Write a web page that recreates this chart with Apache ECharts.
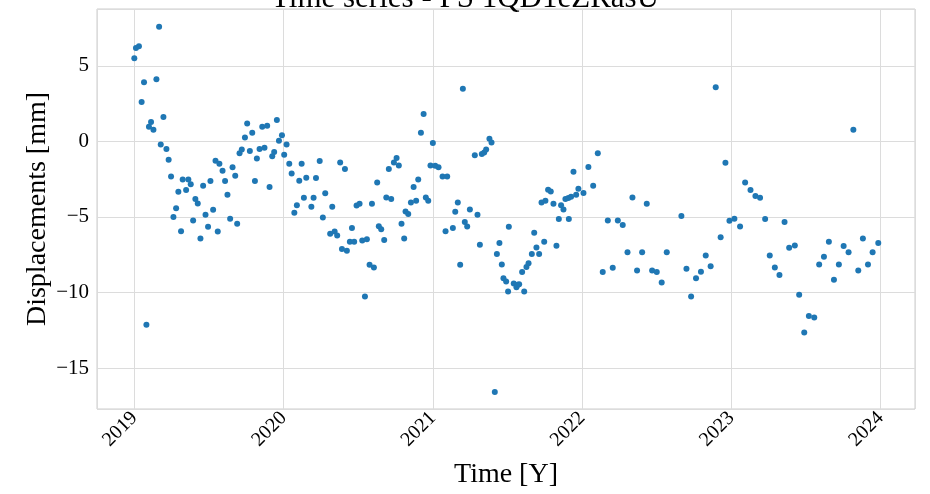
<!DOCTYPE html>
<html>
<head>
<meta charset="utf-8">
<script src="https://cdn.jsdelivr.net/npm/echarts@6/dist/echarts.min.js"></script>
<style>html,body{margin:0;padding:0;background:#fff}#c{width:930px;height:494px}</style>
</head>
<body>
<div id="c"></div>
<script>
const titleText = 'Time series - PS 1QD1eZRasU';
const xName = 'Time [Y]';
const yName = 'Displacements [mm]';
const years = [
2019.000,2019.011,2019.031,2019.049,2019.065,2019.081,2019.098,2019.112,2019.128,2019.148,
2019.166,2019.177,2019.195,2019.215,2019.230,2019.246,2019.262,2019.280,2019.295,2019.313,
2019.324,2019.347,2019.362,2019.378,2019.394,2019.409,2019.425,2019.443,2019.461,2019.477,
2019.494,2019.510,2019.528,2019.544,2019.559,2019.570,2019.591,2019.608,2019.624,2019.642,
2019.658,2019.676,2019.689,2019.705,2019.720,2019.741,2019.756,2019.774,2019.790,2019.808,
2019.821,2019.839,2019.857,2019.872,2019.890,2019.906,2019.924,2019.937,2019.955,2019.969,
2019.989,2020.004,2020.020,2020.038,2020.054,2020.072,2020.089,2020.105,2020.121,2020.136,
2020.152,2020.186,2020.201,2020.217,2020.242,2020.263,2020.279,2020.312,2020.326,2020.342,
2020.359,2020.379,2020.391,2020.411,2020.424,2020.444,2020.458,2020.473,2020.489,2020.509,
2020.527,2020.545,2020.558,2020.576,2020.592,2020.605,2020.627,2020.638,2020.654,2020.674,
2020.688,2020.705,2020.721,2020.739,2020.757,2020.772,2020.790,2020.808,2020.817,2020.835,
2020.853,2020.871,2020.888,2020.902,2020.920,2020.938,2020.953,2020.969,2020.984,2021.000,
2021.016,2021.038,2021.065,2021.085,2021.096,2021.134,2021.150,2021.167,2021.183,2021.201,
2021.214,2021.230,2021.248,2021.281,2021.299,2021.315,2021.328,2021.344,2021.357,2021.379,
2021.393,2021.415,2021.429,2021.446,2021.462,2021.473,2021.491,2021.504,2021.509,2021.542,
2021.560,2021.569,2021.578,2021.598,2021.612,2021.627,2021.641,2021.663,2021.679,2021.694,
2021.712,2021.728,2021.746,2021.754,2021.772,2021.790,2021.808,2021.828,2021.844,2021.859,
2021.875,2021.888,2021.908,2021.911,2021.926,2021.942,2021.960,2021.975,2022.009,2022.042,
2022.074,2022.105,2022.138,2022.172,2022.205,2022.239,2022.272,2022.304,2022.337,2022.368,
2022.402,2022.433,2022.469,2022.500,2022.533,2022.567,2022.665,2022.699,2022.730,2022.763,
2022.796,2022.828,2022.861,2022.895,2022.928,2022.960,2022.987,2023.020,2023.058,2023.092,
2023.128,2023.161,2023.192,2023.226,2023.257,2023.291,2023.322,2023.356,2023.387,2023.425,
2023.454,2023.488,2023.519,2023.555,2023.588,2023.620,2023.653,2023.687,2023.720,2023.752,
2023.785,2023.817,2023.850,2023.881,2023.915,2023.946,2023.984
];
const disp = [
5.50,6.18,6.29,2.60,3.91,-12.14,0.97,1.28,0.77,4.11,
7.59,-0.20,1.61,-0.51,-1.21,-2.32,-5.01,-4.42,-3.33,-5.94,
-2.52,-3.22,-2.52,-2.83,-5.23,-3.82,-4.11,-6.42,-2.94,-4.86,
-5.65,-2.63,-4.53,-1.28,-5.96,-1.48,-1.94,-2.63,-3.53,-5.12,
-1.72,-2.27,-5.45,-0.79,-0.53,0.26,1.19,-0.64,0.57,-2.63,
-1.13,-0.51,0.97,-0.42,1.04,-3.02,-0.99,-0.71,1.41,0.04,
0.40,-0.88,-0.20,-1.48,-2.12,-4.72,-4.22,-2.60,-1.48,-3.73,
-2.41,-4.33,-3.73,-2.43,-1.30,-5.03,-3.44,-6.11,-4.33,-5.96,
-6.23,-1.39,-7.13,-1.83,-7.24,-6.64,-5.74,-6.64,-4.24,-4.13,
-6.56,-10.26,-6.47,-8.17,-4.13,-8.34,-2.72,-5.61,-5.81,-6.53,
-3.71,-1.83,-3.82,-1.39,-1.10,-1.59,-5.45,-6.42,-4.64,-4.81,
-4.04,-3.02,-3.93,-2.52,0.57,1.81,-3.71,-3.93,-1.59,-0.11,
-1.61,-1.72,-2.32,-5.94,-2.32,-5.74,-4.66,-4.04,-8.17,3.49,
-5.34,-5.63,-4.50,-0.91,-4.86,-6.84,-0.84,-0.73,-0.53,0.18,
-0.07,-16.58,-7.46,-6.73,-8.15,-9.05,-9.27,-9.93,-5.65,-9.40,
-9.65,-9.49,-9.45,-8.65,-9.93,-8.32,-8.06,-7.46,-6.05,-7.02,
-7.46,-4.04,-6.64,-3.93,-3.20,-3.31,-4.13,-6.91,-5.14,-4.22,
-4.50,-3.82,-3.75,-5.14,-3.66,-2.01,-3.53,-3.13,-3.42,-1.70,
-2.94,-0.79,-8.65,-5.23,-8.37,-5.23,-5.54,-7.33,-3.71,-8.54,
-7.33,-4.13,-8.54,-8.65,-9.34,-7.33,-4.94,-8.43,-10.26,-9.05,
-8.63,-7.55,-8.26,3.58,-6.34,-1.41,-5.25,-5.12,-5.63,-2.72,
-3.22,-3.62,-3.73,-5.14,-7.55,-8.34,-8.85,-5.34,-7.04,-6.89,
-10.15,-12.65,-11.55,-11.66,-8.15,-7.64,-6.64,-9.16,-8.15,-6.93,
-7.33,0.77,-8.54,-6.42,-8.15,-7.33,-6.73
];

const points = years.map((y, i) => [y, disp[i]]);
const serif = 'Liberation Serif';
const chart = echarts.init(document.getElementById('c'), null, {renderer: 'canvas'});
chart.setOption({
  animation: false,
  backgroundColor: '#fff',
  title: {
    text: titleText, left: 'center', top: -22,
    textStyle: {fontFamily: serif, fontSize: 31, fontWeight: 'normal', color: '#000'}
  },
  grid: {left: 97, right: 15, top: 9, bottom: 84, show: true, borderColor: '#cccccc', borderWidth: 1},
  xAxis: {
    type: 'value', min: 2018.75, max: 2024.23, splitNumber: 5,
    name: xName, nameLocation: 'middle', nameGap: 52,
    nameTextStyle: {fontFamily: serif, fontSize: 28, color: '#000'},
    axisLine: {show: false}, axisTick: {show: false},
    axisLabel: {
      rotate: 45, margin: 6, fontFamily: serif, fontSize: 20, color: '#000',
      showMinLabel: false, showMaxLabel: false,
      formatter: v => Number.isInteger(Math.round(v*1000)/1000) ? String(Math.round(v)) : ''
    },
    splitLine: {show: true, lineStyle: {color: '#dcdcdc', width: 1}}
  },
  yAxis: {
    type: 'value', min: -17.71, max: 8.76, splitNumber: 5,
    name: yName, nameLocation: 'middle', nameGap: 45, nameRotate: 90,
    nameMoveOverlap: false,
    nameTextStyle: {fontFamily: serif, fontSize: 28, color: '#000'},
    axisLine: {show: false}, axisTick: {show: false},
    axisLabel: {
      margin: 8, fontFamily: serif, fontSize: 21, color: '#000',
      showMinLabel: false, showMaxLabel: false,
      formatter: v => (Math.abs(v % 5) > 1e-6) ? '' : (v < 0 ? '\u2212' + Math.abs(v) : String(v))
    },
    splitLine: {show: true, lineStyle: {color: '#dcdcdc', width: 1}}
  },
  series: [{
    type: 'scatter', data: points, symbolSize: 6,
    itemStyle: {color: '#1f77b4', opacity: 1}
  }]
});
</script>
</body>
</html>
